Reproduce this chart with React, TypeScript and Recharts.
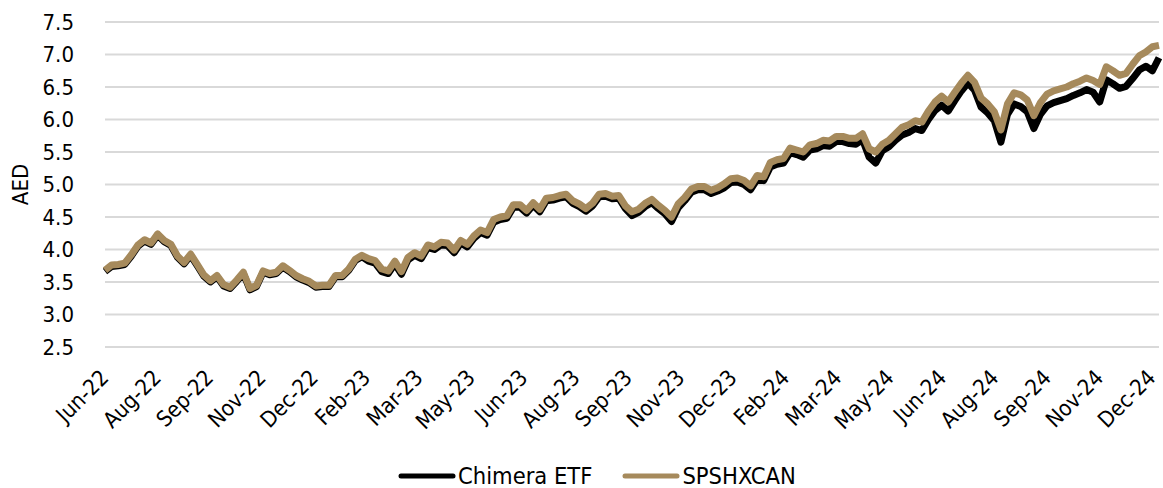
import React from 'react';
import { LineChart, Line, XAxis, YAxis, CartesianGrid } from 'recharts';

const tickLabels = ['Jun-22','Aug-22','Sep-22','Nov-22','Dec-22','Feb-23','Mar-23','May-23','Jun-23','Aug-23','Sep-23','Nov-23','Dec-23','Feb-24','Mar-24','May-24','Jun-24','Aug-24','Sep-24','Nov-24','Dec-24'];

const yTicks = [2.5, 3.0, 3.5, 4.0, 4.5, 5.0, 5.5, 6.0, 6.5, 7.0, 7.5];

const chimera = [
  3.66,3.74,3.75,3.77,3.90,4.05,4.13,4.08,4.22,4.12,4.06,3.88,3.78,3.91,3.75,3.59,3.50,3.58,3.44,3.40,3.51,3.63,3.38,3.43,3.65,3.61,3.63,3.73,3.66,3.58,3.53,3.49,3.42,3.43,3.43,3.58,3.58,3.68,3.83,3.89,
  3.82,3.79,3.66,3.63,3.78,3.62,3.84,3.91,3.86,4.03,4.00,4.07,4.06,3.95,4.10,4.04,4.17,4.26,4.22,4.42,4.46,4.48,4.65,4.65,4.56,4.68,4.58,4.75,4.76,4.79,4.81,4.71,4.66,4.59,4.67,4.81,4.82,4.78,4.79,4.63,
  4.52,4.57,4.66,4.72,4.63,4.55,4.43,4.64,4.75,4.88,4.92,4.92,4.86,4.90,4.95,5.03,5.04,5.00,4.92,5.08,5.06,5.27,5.31,5.33,5.49,5.46,5.42,5.53,5.55,5.60,5.59,5.66,5.66,5.63,5.62,5.69,5.42,5.33,5.52,5.58,5.68,
  5.76,5.80,5.86,5.83,6.00,6.14,6.22,6.13,6.29,6.44,6.56,6.45,6.19,6.10,5.98,5.65,6.08,6.24,6.20,6.12,5.86,6.08,6.21,6.26,6.29,6.32,6.37,6.41,6.46,6.42,6.27,6.61,6.55,6.48,6.51,6.63,6.76,6.82,6.75,6.95,
];

const spshxcan = [
  3.68,3.76,3.77,3.79,3.92,4.07,4.15,4.10,4.24,4.14,4.08,3.90,3.80,3.93,3.77,3.61,3.52,3.60,3.46,3.42,3.53,3.65,3.40,3.45,3.67,3.63,3.65,3.75,3.68,3.60,3.55,3.51,3.44,3.45,3.45,3.60,3.60,3.70,3.85,3.91,
  3.86,3.83,3.70,3.67,3.82,3.66,3.88,3.95,3.90,4.07,4.04,4.11,4.10,3.99,4.14,4.08,4.21,4.30,4.26,4.46,4.50,4.52,4.69,4.69,4.60,4.72,4.62,4.79,4.80,4.83,4.85,4.75,4.70,4.63,4.71,4.85,4.86,4.82,4.83,4.67,
  4.58,4.62,4.71,4.77,4.68,4.60,4.50,4.70,4.80,4.93,4.97,4.97,4.91,4.95,5.01,5.09,5.10,5.06,4.98,5.14,5.12,5.34,5.38,5.40,5.56,5.53,5.50,5.61,5.63,5.68,5.67,5.74,5.74,5.71,5.71,5.78,5.55,5.50,5.62,5.68,5.78,
  5.88,5.92,5.98,5.96,6.13,6.27,6.36,6.27,6.42,6.56,6.68,6.57,6.33,6.24,6.12,5.84,6.24,6.41,6.38,6.30,6.06,6.26,6.39,6.44,6.47,6.50,6.55,6.59,6.64,6.60,6.54,6.81,6.75,6.68,6.71,6.85,6.98,7.04,7.12,7.14,
];

const data = spshxcan.map((v, i) => ({ i, chimera: chimera[i], spshxcan: v }));
const STEP = (spshxcan.length - 1) / (tickLabels.length - 1);
const xTicks = tickLabels.map((_, i) => i * STEP);

const FONT = "Tahoma, 'DejaVu Sans Condensed', 'DejaVu Sans', sans-serif";
const GOLD = '#a68a5c';

const XTick = (props: any) => {
  const { x, y, payload } = props;
  const idx = Math.round(payload.value / STEP);
  const ax = x + 5 - (7 * idx) / (tickLabels.length - 1);
  const ay = y + 32;
  return (
    <text x={ax} y={ay} transform={`rotate(-45 ${ax} ${ay})`} textAnchor="end" fontSize={22} fontFamily={FONT} fill="#000">
      {tickLabels[idx]}
    </text>
  );
};

const AxisTitle = (props: any) => {
  const vb = props.viewBox || { x: 0, y: 22, width: 105, height: 325 };
  const cx = vb.x + 28;
  const cy = vb.y + vb.height / 2;
  return (
    <text x={cx} y={cy} transform={`rotate(-90 ${cx} ${cy})`} textAnchor="middle" fontSize={22} fontFamily={FONT} fill="#000">
      AED
    </text>
  );
};

export default function App() {
  return (
    <div style={{ position: 'absolute', left: 0, top: 0, width: 1163, height: 488, background: '#fff' }}>
      <LineChart width={1163} height={488} data={data} margin={{ top: 22, right: 4, bottom: 0, left: 0 }}>
        <CartesianGrid vertical={false} stroke="#d9d9d9" strokeWidth={2} />
        <XAxis
          dataKey="i"
          type="number"
          domain={[0, spshxcan.length - 1]}
          ticks={xTicks}
          interval={0}
          axisLine={false}
          tickLine={false}
          tickSize={0}
          tickMargin={0}
          height={141}
          tick={<XTick />}
        />
        <YAxis
          domain={[2.5, 7.5]}
          ticks={yTicks}
          interval={0}
          width={105}
          axisLine={false}
          tickLine={false}
          tickSize={0}
          tickMargin={31}
          tickFormatter={(v: number) => v.toFixed(1)}
          tick={{ fontSize: 22, fontFamily: FONT, fill: '#000' }}
          label={{ content: <AxisTitle /> }}
        />
        <Line dataKey="chimera" stroke="#000" strokeWidth={7} dot={false} isAnimationActive={false} strokeLinejoin="round" />
        <Line dataKey="spshxcan" stroke={GOLD} strokeWidth={7} dot={false} isAnimationActive={false} strokeLinejoin="round" />
      </LineChart>
      <div style={{ position: 'absolute', left: 398, top: 465, height: 22, display: 'flex', alignItems: 'center', fontFamily: FONT, fontSize: 23.5, lineHeight: '22px', color: '#000', whiteSpace: 'nowrap' }}>
        <svg width={58} height={10}><line x1={3} y1={5} x2={55} y2={5} stroke="#000" strokeWidth={5} strokeLinecap="round" /></svg>
        <span style={{ marginLeft: 2 }}>Chimera ETF</span>
        <svg width={58} height={10} style={{ marginLeft: 30 }}><line x1={3} y1={5} x2={55} y2={5} stroke={GOLD} strokeWidth={5} strokeLinecap="round" /></svg>
        <span style={{ marginLeft: 2 }}>SPSHXCAN</span>
      </div>
    </div>
  );
}
